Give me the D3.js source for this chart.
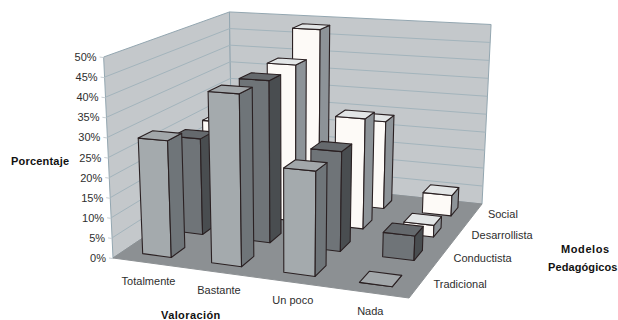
<!DOCTYPE html>
<html>
<head>
<meta charset="utf-8">
<style>
html,body{margin:0;padding:0;background:#fff}
svg{display:block}
text{font-family:"Liberation Sans",Arial,sans-serif;font-size:11px;fill:#2e2e2e}
.axis-title{font-weight:bold;fill:#111}
</style>
<script src="https://cdn.jsdelivr.net/npm/d3@7"></script>
</head>
<body>
<svg id="chart" width="618" height="320"></svg>
<script>
// Percentages by rating (columns) and pedagogical model (rows, front to back)
const categories = ["Totalmente", "Bastante", "Un poco", "Nada"];
const series = ["Tradicional", "Conductista", "Desarrollista", "Social"];
const tradicional = [29, 42, 25, 0];
const conductista = [25, 41.5, 25, 6];
const desarrollista = [25, 42, 29, 3];
const social = [20, 48.5, 24, 5.5];
const tickValues = [0, 5, 10, 15, 20, 25, 30, 35, 40, 45, 50];

const faceColours = [
  {front: "#a4aaad", side: "#6f7579", top: "#a2a7aa"},
  {front: "#6f7478", side: "#494d50", top: "#65696d"},
  {front: "#fdfaf7", side: "#8d9398", top: "#e2e5e6"},
  {front: "#fdfaf7", side: "#8d9398", top: "#e2e5e6"}
];

// Floor corners on screen, ordered front-left, front-right, back-right, back-left
const floorQuad = [[113, 258], [409, 298], [482, 204], [232, 178]];
const wallHeight = 201;   // pixel height of the 50% level at the front-left corner
const vanishX = 290, vanishDepth = 3800;   // verticals converge towards this point below the chart

// Perspective map from the unit square onto the floor; also returns the depth divisor
function homography(q) {
  const [[x0, y0], [x1, y1], [x2, y2], [x3, y3]] = q;
  const dx1 = x1 - x2, dx2 = x3 - x2, sx = x0 - x1 + x2 - x3;
  const dy1 = y1 - y2, dy2 = y3 - y2, sy = y0 - y1 + y2 - y3;
  const den = dx1 * dy2 - dx2 * dy1;
  const g = (sx * dy2 - dx2 * sy) / den, h = (dx1 * sy - sx * dy1) / den;
  const a = x1 - x0 + g * x1, b = x3 - x0 + h * x3;
  const d = y1 - y0 + g * y1, e = y3 - y0 + h * y3;
  return (u, v) => {
    const w = g * u + h * v + 1;
    return [(a * u + b * v + x0) / w, (d * u + e * v + y0) / w, w];
  };
}
const floorMap = homography(floorQuad);

const xBand = d3.scaleBand().domain(categories).range([0, 1]).paddingInner(0.58).paddingOuter(0.29);
const zBand = d3.scaleBand().domain(series).range([0, 1]).paddingInner(0.58).paddingOuter(0.29);
const yScale = d3.scaleLinear().domain([0, 50]).range([0, wallHeight]);

// u along the rating axis, v along the depth axis, val in percent
function project(u, v, val) {
  const [x, y, w] = floorMap(u, v);
  const h = yScale(val) / w;
  return [x + h * (x - vanishX) / vanishDepth, y - h];
}

const svg = d3.select("#chart");
const poly = pts => "M" + pts.map(p => p.join(",")).join("L") + "Z";

// Walls and floor
const walls = svg.append("g");
const wallLine = "#93a6b0";
walls.append("path")
  .attr("d", poly([project(0, 0, 0), project(0, 1, 0), project(0, 1, 50), project(0, 0, 50)]))
  .attr("fill", "#c4c8cb").attr("stroke", wallLine);
walls.append("path")
  .attr("d", poly([project(0, 1, 0), project(1, 1, 0), project(1, 1, 50), project(0, 1, 50)]))
  .attr("fill", "#c4c8cb").attr("stroke", wallLine);
walls.append("path")
  .attr("d", poly([project(0, 0, 0), project(1, 0, 0), project(1, 1, 0), project(0, 1, 0)]))
  .attr("fill", "#8c9093").attr("stroke", "#8c9093");

// Gridlines run along the side wall and across the back wall
walls.selectAll(".grid").data(tickValues.filter(d => d > 0 && d < 50)).join("path")
  .attr("class", "grid")
  .attr("fill", "none").attr("stroke", "#a3b4bc").attr("stroke-width", 1)
  .attr("d", d => "M" + [project(0, 0, d), project(0, 1, d), project(1, 1, d)].map(p => p.join(",")).join("L"));

// Bars, painted from the back row to the front row
const rows = [tradicional, conductista, desarrollista, social];
const bars = svg.append("g").attr("stroke", "#2a2022").attr("stroke-width", 1.1).attr("stroke-linejoin", "round");
d3.range(series.length - 1, -1, -1).forEach(r => {
  categories.forEach((c, i) => {
    const val = rows[r][i], col = faceColours[r];
    const u0 = xBand(c), u1 = u0 + xBand.bandwidth();
    const v0 = zBand(series[r]), v1 = v0 + zBand.bandwidth();
    const g = bars.append("g");
    g.append("path").attr("fill", col.front)
      .attr("d", poly([project(u0, v0, 0), project(u1, v0, 0), project(u1, v0, val), project(u0, v0, val)]));
    g.append("path").attr("fill", col.side)
      .attr("d", poly([project(u1, v0, 0), project(u1, v1, 0), project(u1, v1, val), project(u1, v0, val)]));
    g.append("path").attr("fill", col.top)
      .attr("d", poly([project(u0, v0, val), project(u1, v0, val), project(u1, v1, val), project(u0, v1, val)]));
  });
});

// Value axis
const axis = svg.append("g");
tickValues.forEach(d => {
  const p = project(0, 0, d);
  axis.append("line").attr("x1", p[0] - 4).attr("x2", p[0]).attr("y1", p[1]).attr("y2", p[1] + 0.6)
    .attr("stroke", "#c9cfd3");
  axis.append("text").attr("x", p[0] - 7).attr("y", p[1] + 4).attr("text-anchor", "end").text(d + "%");
});

// Rating labels along the front edge
categories.forEach((c, i) => {
  const p = project(xBand(c) + xBand.bandwidth() / 2, 0, 0);
  axis.append("text").attr("x", p[0] + 1.5).attr("y", p[1] + 22).attr("text-anchor", "middle").text(c);
});

// Model labels along the right edge
series.forEach(s => {
  const p = project(1, zBand(s) + zBand.bandwidth() / 2, 0);
  axis.append("text").attr("x", p[0] + 13.5).attr("y", p[1] + 4).text(s);
});

// Axis titles
const title = (txt, x, y, anchor, spacing) => svg.append("text").attr("class", "axis-title")
  .attr("x", x).attr("y", y).attr("text-anchor", anchor)
  .attr("letter-spacing", spacing).text(txt);
title("Porcentaje", 11, 165, "start", 0.2);
title("Valoración", 161, 319, "start", 0.4);
title("Modelos", 561, 253, "start", 0.6);
title("Pedagógicos", 548, 271, "start", 0.1);
</script>
</body>
</html>
